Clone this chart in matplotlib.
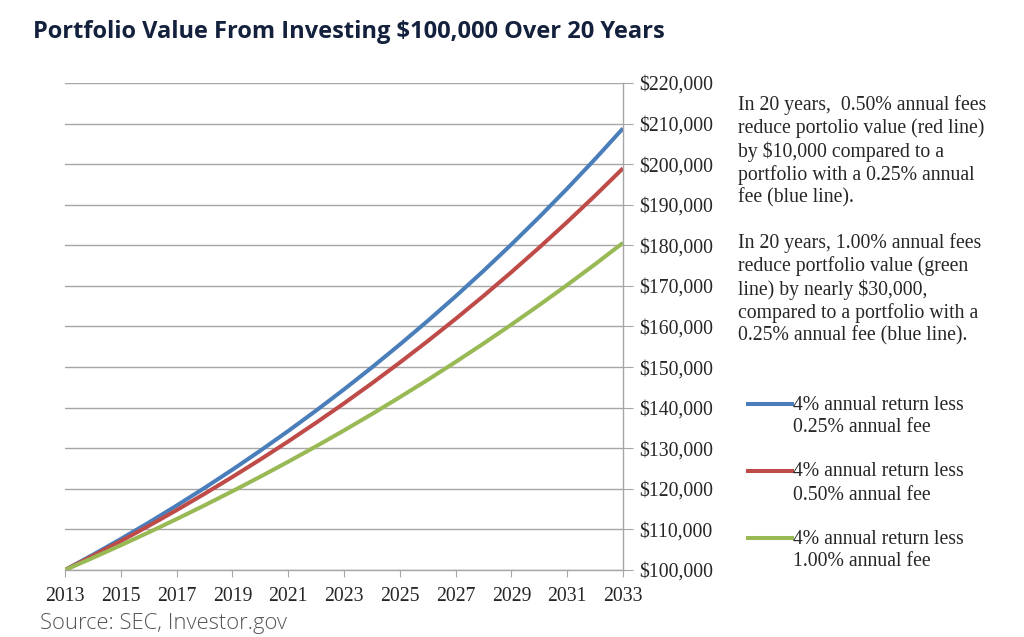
from matplotlib import pyplot as plt
from matplotlib.ticker import FuncFormatter

years = list(range(2013, 2034))
fee_025 = [100000, 103750, 107640, 111680, 115870, 120210, 124720, 129400, 134250, 139280, 144500,
           149920, 155550, 161380, 167430, 173710, 180220, 186980, 193990, 201270, 208820]
fee_050 = [100000, 103500, 107120, 110870, 114750, 118770, 122930, 127230, 131680, 136290, 141060,
           146000, 151110, 156400, 161870, 167530, 173400, 179470, 185750, 192250, 198980]
fee_100 = [100000, 103000, 106090, 109270, 112550, 115930, 119410, 122990, 126680, 130480, 134390,
           138420, 142580, 146850, 151260, 155800, 160470, 165290, 170240, 175350, 180610]
labels = [["4% annual return less", "0.25% annual fee"],
          ["4% annual return less", "0.50% annual fee"],
          ["4% annual return less", "1.00% annual fee"]]
colors = ["#4a7ebb", "#be4b48", "#98b954"]
x_ticks = list(range(2013, 2034, 2))
y_ticks = list(range(100000, 220001, 10000))

note_1 = ["In 20 years,  0.50% annual fees", "reduce portolio value (red line)",
          "by $10,000 compared to a", "portfolio with a 0.25% annual", "fee (blue line)."]
note_2 = ["In 20 years, 1.00% annual fees", "reduce portfolio value (green",
          "line) by nearly $30,000,", "compared to a portfolio with a", "0.25% annual fee (blue line)."]

serif = "Liberation Serif"
grey = "#a6a6a6"
text_col = "#262626"
W, H = 1024, 637


def fy(px):
    # pixel row from the top -> figure fraction
    return 1 - px / H


fig = plt.figure(figsize=(W / 100, H / 100), dpi=100)
ax = fig.add_axes([65 / W, fy(570), 558 / W, 487 / H])

for series, c in zip([fee_025, fee_050, fee_100], colors):
    ax.plot(years, series, color=c, lw=2.9, solid_capstyle="butt")

ax.set_xlim(2013, 2033)
ax.set_ylim(100000, 220000)
ax.set_xticks(x_ticks)
ax.set_yticks(y_ticks)
ax.yaxis.tick_right()
ax.yaxis.set_major_formatter(FuncFormatter(lambda v, p: "${:,.0f}".format(v)))
ax.grid(axis="y", color=grey, lw=1)
ax.set_axisbelow(True)
for s in ["left", "top"]:
    ax.spines[s].set_visible(False)
for s in ["right", "bottom"]:
    ax.spines[s].set_color(grey)
    ax.spines[s].set_linewidth(1)
ax.tick_params(axis="y", direction="out", length=7, color=grey, pad=5, labelsize=14.2, labelcolor=text_col)
ax.tick_params(axis="x", direction="out", length=5, color=grey, pad=7, labelsize=14.2, labelcolor=text_col)
for lab in ax.get_xticklabels() + ax.get_yticklabels():
    lab.set_family(serif)

fig.text(33 / W, fy(32), "Portfolio Value From Investing $100,000 Over 20 Years",
         fontsize=17, fontweight="bold", family="Open Sans", color="#14213d", va="center")
fig.text(40 / W, fy(623), "Source: SEC, Investor.gov", fontsize=15.8, family="Open Sans",
         fontweight="light", color="#555555", va="center")

for lines, top in zip([note_1, note_2], [105, 243]):
    for i, line in enumerate(lines):
        fig.text(738 / W, fy(top + i * 23.2), line, fontsize=14.2, family=serif,
                 color=text_col, va="center")

for lab, c, yy in zip(labels, colors, [404, 471, 538]):
    fig.add_artist(plt.Line2D([748 / W, 792 / W], [fy(yy), fy(yy)], color=c, lw=2.9,
                              transform=fig.transFigure))
    fig.text(793 / W, fy(yy + 1), lab[0], fontsize=14.2, family=serif, color=text_col, va="center")
    fig.text(793 / W, fy(yy + 24), lab[1], fontsize=14.2, family=serif, color=text_col, va="center")

fig.savefig("out.png", dpi=100)
